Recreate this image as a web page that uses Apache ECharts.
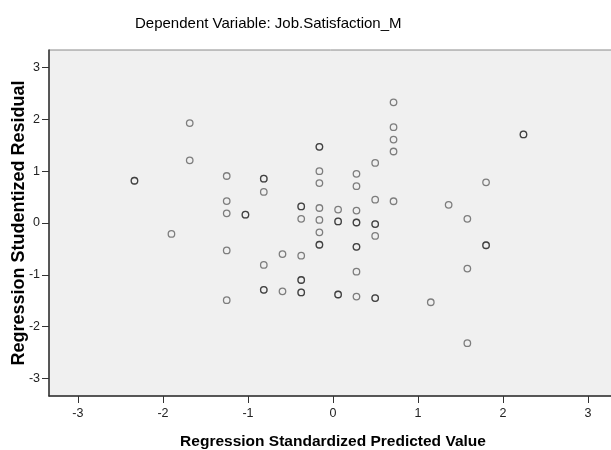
<!DOCTYPE html>
<html>
<head>
<meta charset="utf-8">
<script src="https://cdn.jsdelivr.net/npm/echarts@6/dist/echarts.min.js"></script>
<style>
html,body{margin:0;padding:0;background:#fff;}
#c{width:611px;height:450px;}
</style>
</head>
<body>
<div id="c"></div>
<script>
// Regression Standardized Predicted Value (x) and Studentized Residual (y)
// duplicated pairs reproduce the darker overlapping circles
var predicted = [
  -2.335, -2.335,
  -1.90,
  -1.685, -1.685,
  -1.25, -1.25, -1.25, -1.25, -1.25,
  -1.03, -1.03,
  -0.814, -0.814, -0.814, -0.814, -0.814, -0.814,
  -0.594, -0.594,
  -0.374, -0.374, -0.374, -0.374, -0.374, -0.374, -0.374, -0.374,
  -0.16, -0.16, -0.16, -0.16, -0.16, -0.16, -0.16, -0.16, -0.16,
  0.06, 0.06, 0.06, 0.06, 0.06,
  0.276, 0.276, 0.276, 0.276, 0.276, 0.276, 0.276, 0.276, 0.276,
  0.496, 0.496, 0.496, 0.496, 0.496, 0.496, 0.496,
  0.712, 0.712, 0.712, 0.712, 0.712,
  1.15,
  1.36,
  1.58, 1.58, 1.58,
  1.80, 1.80, 1.80,
  2.24, 2.24
];
var residual = [
  0.816, 0.816,
  -0.21,
  1.93, 1.21,
  0.907, 0.424, 0.186, -0.53, -1.49,
  0.16, 0.16,
  0.855, 0.855, 0.60, -0.81, -1.29, -1.29,
  -0.60, -1.32,
  0.32, 0.32, 0.08, -0.63, -1.10, -1.10, -1.34, -1.34,
  1.47, 1.47, 1.0, 0.77, 0.29, 0.06, -0.18, -0.42, -0.42,
  0.26, 0.03, 0.03, -1.38, -1.38,
  0.95, 0.71, 0.24, 0.01, 0.01, -0.46, -0.46, -0.94, -1.42,
  1.16, 0.45, -0.02, -0.02, -0.25, -1.45, -1.45,
  2.33, 1.85, 1.61, 1.38, 0.42,
  -1.53,
  0.35,
  0.08, -0.88, -2.32,
  0.785, -0.43, -0.43,
  1.71, 1.71
];
var tickValues = [-3, -2, -1, 0, 1, 2, 3];
var axisMin = -3.34, axisMax = 3.34;
var chartTitle = 'Dependent Variable: Job.Satisfaction_M';
var xName = 'Regression Standardized Predicted Value';
var yName = 'Regression Studentized Residual';

var points = predicted.map(function (x, i) { return [x, residual[i]]; });
var FONT = '"Liberation Sans", Arial, sans-serif';

var chart = echarts.init(document.getElementById('c'), null, {renderer: 'canvas'});
chart.setOption({
  animation: false,
  backgroundColor: '#ffffff',
  title: {
    text: chartTitle,
    left: 130, top: 11,
    textStyle: {fontFamily: FONT, fontSize: 15, fontWeight: 'normal', color: '#000'}
  },
  grid: {
    left: 49, top: 50, right: -6, bottom: 54,
    containLabel: false, outerBoundsMode: 'none',
    show: true, backgroundColor: '#f0f0f0', borderColor: '#8a8a8a', borderWidth: 1
  },
  xAxis: {
    type: 'value', min: axisMin, max: axisMax,
    name: xName, nameLocation: 'middle', nameGap: 38, nameMoveOverlap: false,
    nameTextStyle: {fontFamily: FONT, fontSize: 15.5, fontWeight: 'bold', color: '#000'},
    axisLine: {show: true, onZero: false, lineStyle: {color: '#333', width: 1.5}},
    axisTick: {show: true, length: 7, customValues: tickValues, lineStyle: {color: '#333'}},
    axisLabel: {customValues: tickValues, fontFamily: FONT, fontSize: 12.5, color: '#222', margin: 11},
    splitLine: {show: false}
  },
  yAxis: {
    type: 'value', min: axisMin, max: axisMax,
    name: yName, nameLocation: 'middle', nameGap: 21, nameMoveOverlap: false,
    nameTextStyle: {fontFamily: FONT, fontSize: 18, fontWeight: 'bold', color: '#000'},
    axisLine: {show: true, onZero: false, lineStyle: {color: '#333', width: 1.5}},
    axisTick: {show: true, length: 7, customValues: tickValues, lineStyle: {color: '#333'}},
    axisLabel: {customValues: tickValues, fontFamily: FONT, fontSize: 12.5, color: '#222', margin: 9},
    splitLine: {show: false}
  },
  series: [{
    type: 'scatter',
    data: points,
    symbol: 'circle',
    symbolSize: 6.5,
    itemStyle: {color: 'rgba(0,0,0,0)', borderColor: 'rgba(0,0,0,0.6)', borderWidth: 1.3},
    emphasis: {disabled: true}
  }]
});
</script>
</body>
</html>
